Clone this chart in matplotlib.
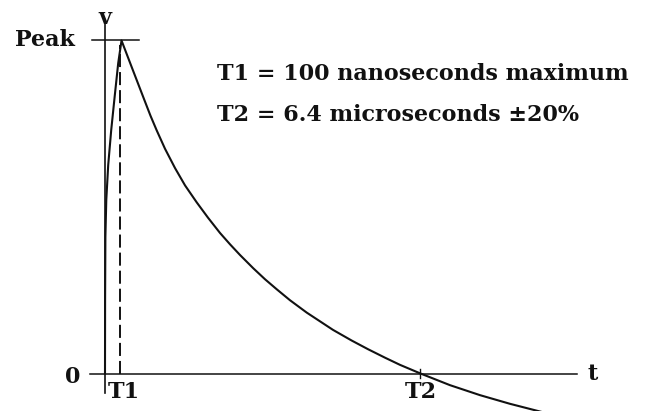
import matplotlib
matplotlib.use("Agg")
import matplotlib.pyplot as plt

# Waveform data: time in microseconds (schematic), voltage normalised to Peak = 1
rise_t = [0.0, 0.002, 0.008, 0.026, 0.065, 0.126, 0.195, 0.268, 0.335]
rise_v = [0.0, 0.221, 0.410, 0.521, 0.626, 0.731, 0.830, 0.932, 1.0]
decay_t = [0.335, 0.542, 0.797, 0.923, 1.049, 1.217, 1.420, 1.623, 1.860, 2.089,
           2.333, 2.536, 2.738, 3.008, 3.246, 3.483, 3.753, 4.091, 4.625, 5.004,
           5.335, 5.680, 5.984, 6.400, 6.998, 7.607, 8.215, 8.925]
decay_v = [1.0, 0.920, 0.822, 0.774, 0.730, 0.675, 0.617, 0.565, 0.514, 0.468,
           0.422, 0.388, 0.356, 0.316, 0.283, 0.253, 0.220, 0.183, 0.131, 0.099,
           0.073, 0.0475, 0.026, 0.0, -0.035, -0.065, -0.091, -0.118]
t1 = 0.314
t2 = 6.4
peak = 1.0
line1 = "T1 = 100 nanoseconds maximum"
line2 = "T2 = 6.4 microseconds \u00b120%"

plt.rcParams['lines.scale_dashes'] = False
fig = plt.figure(figsize=(6.51, 4.11), dpi=100)
ax = fig.add_axes([0, 0, 1, 1])
ax.set_xlim(-2.130, 11.076)
ax.set_ylim(-0.1126, 1.1216)
ax.axis("off")

k = "#111111"
# axes
ax.plot([-0.304, 9.575], [0, 0], color=k, lw=1.1)
ax.plot([0, 0], [-0.0586, 1.0556], color=k, lw=1.2)
ax.plot([-0.264, 0.690], [peak, peak], color=k, lw=1.1)
ax.plot([t1, t1], [0, 0.985], color=k, lw=1.4, dashes=(9.4, 3.6))
ax.plot([t2, t2], [-0.015, 0.015], color=k, lw=1.0)

ax.plot(rise_t + decay_t[1:], rise_v + decay_v[1:], color=k, lw=1.5,
        solid_joinstyle="round")

fp = dict(family="DejaVu Serif", fontweight="bold", fontsize=16, color=k)
ax.text(-1.227, peak, "Peak", ha="center", va="center", **fp)
ax.text(-0.649, -0.0096, "0", ha="center", va="center", **fp)
ax.text(0.0, 1.068, "v", ha="center", va="center", **fp)
ax.text(9.889, 0.0, "t", ha="center", va="center", **fp)
ax.text(0.372, -0.057, "T1", ha="center", va="center", **fp)
ax.text(6.4, -0.055, "T2", ha="center", va="center", **fp)
ax.text(2.266, 0.899, line1, ha="left", va="center", **fp)
ax.text(2.266, 0.775, line2, ha="left", va="center", **fp)

fig.savefig("out.png", dpi=100)
